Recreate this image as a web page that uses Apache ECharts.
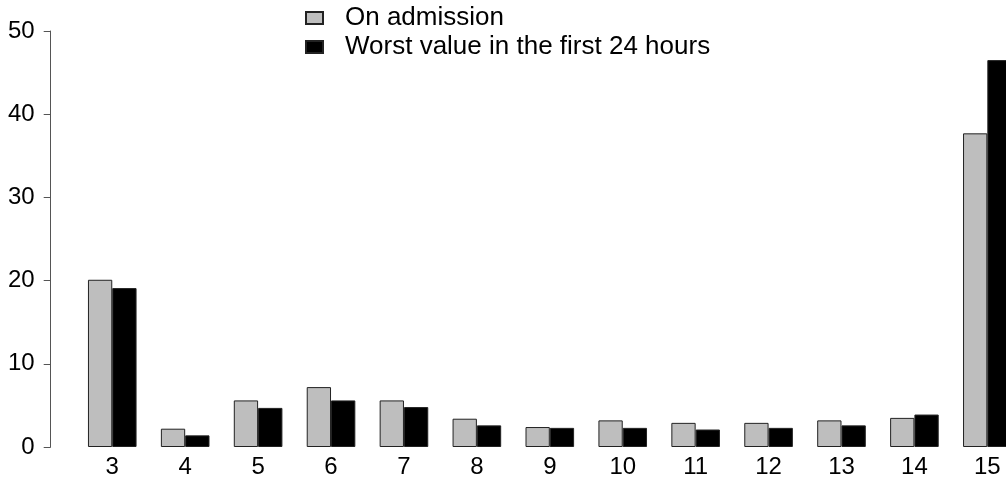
<!DOCTYPE html>
<html>
<head>
<meta charset="utf-8">
<script src="https://cdn.jsdelivr.net/npm/echarts@6/dist/echarts.min.js"></script>
<style>
  html, body { margin: 0; padding: 0; background: #fff; }
  #chart { width: 1006px; height: 482px; }
</style>
</head>
<body>
<div id="chart"></div>
<script>
// Score categories along the horizontal axis
const categories = ['3', '4', '5', '6', '7', '8', '9', '10', '11', '12', '13', '14', '15'];
// Series names
const seriesNames = ['On admission', 'Worst value in the first 24 hours'];
// Values per category (same order as categories)
const onAdmission = [20.1, 2.2, 5.6, 7.2, 5.6, 3.4, 2.4, 3.2, 2.9, 2.9, 3.2, 3.5, 37.7];
const worst24h   = [19.1, 1.4, 4.7, 5.6, 4.8, 2.6, 2.3, 2.3, 2.1, 2.3, 2.6, 3.9, 46.5];
// Vertical axis range
const yMin = 0, yMax = 50, yStep = 10;

const font = 'Liberation Sans, Arial, Helvetica, sans-serif';
const chart = echarts.init(document.getElementById('chart'), null, { renderer: 'canvas' });

chart.setOption({
  animation: false,
  backgroundColor: '#ffffff',
  // plot area runs past the right edge, so the last pair of bars is cut off
  grid: { left: 75.8, top: 31, bottom: 35, width: 948, containLabel: false, outerBoundsMode: 'none' },
  legend: {
    orient: 'vertical',
    left: 305,
    top: 5,
    padding: 0,
    itemWidth: 17,
    itemHeight: 12,
    itemGap: 3,
    icon: 'rect',
    textStyle: { fontFamily: font, fontSize: 26, color: '#000', padding: [0, 0, 0, 17] },
    data: seriesNames
  },
  xAxis: {
    type: 'category',
    data: categories,
    boundaryGap: true,
    axisLine: { show: false },
    axisTick: { show: false },
    splitLine: { show: false },
    axisLabel: { fontFamily: font, fontSize: 24, color: '#000', margin: 8, interval: 0 }
  },
  yAxis: {
    type: 'value',
    min: yMin,
    max: yMax,
    interval: yStep,
    offset: 25.1,
    splitLine: { show: false },
    axisLine: { show: true, lineStyle: { color: '#555', width: 1 } },
    axisTick: { show: true, length: 7, lineStyle: { color: '#555', width: 1 } },
    axisLabel: { fontFamily: font, fontSize: 24, color: '#000', margin: 16 }
  },
  series: [
    {
      name: seriesNames[0],
      type: 'bar',
      data: onAdmission,
      barWidth: 24.3,
      barGap: '0%',
      itemStyle: { color: '#bebebe', borderColor: '#222', borderWidth: 1 }
    },
    {
      name: seriesNames[1],
      type: 'bar',
      data: worst24h,
      barWidth: 24.3,
      barGap: '0%',
      itemStyle: { color: '#000000', borderColor: '#222', borderWidth: 1 }
    }
  ]
});
</script>
</body>
</html>
